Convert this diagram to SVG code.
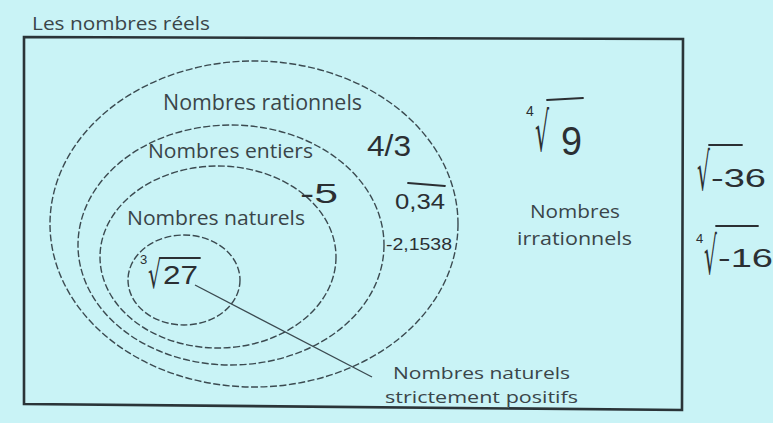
<svg xmlns="http://www.w3.org/2000/svg" width="773" height="423" viewBox="0 0 773 423">
  <style>
    .lbl { font-family: "Open Sans", "Liberation Sans", sans-serif; fill: #3a4549; }
    .hw { font-family: "Liberation Sans", "DejaVu Sans", sans-serif; fill: #2b2f33; }
    .rad { font-family: "DejaVu Sans", sans-serif; fill: #2b2f33; }
    .set { fill: none; stroke: #3b4a50; stroke-width: 1.4; stroke-dasharray: 7 2.5; }
    .bar { stroke: #2b2f33; stroke-width: 1.8; stroke-linecap: round; }
  </style>
  <rect x="0" y="0" width="773" height="423" fill="#c9f3f6"/>

  <g id="title">
    <text class="lbl" x="32" y="30" font-size="19" textLength="178" lengthAdjust="spacingAndGlyphs">Les nombres réels</text>
  </g>

  <g id="reels">
    <path d="M24,37 L683,39 L682,410 L24,404 Z" fill="none" stroke="#2a3438" stroke-width="2.6"/>
  </g>

  <g id="rationnels">
    <ellipse class="set" cx="254" cy="224" rx="204" ry="163"/>
    <text class="lbl" x="163" y="110" font-size="21" textLength="199" lengthAdjust="spacingAndGlyphs">Nombres rationnels</text>
  </g>

  <g id="entiers">
    <ellipse class="set" cx="231" cy="245" rx="153" ry="120"/>
    <text class="lbl" x="148" y="158" font-size="20" textLength="165" lengthAdjust="spacingAndGlyphs">Nombres entiers</text>
  </g>

  <g id="naturels">
    <ellipse class="set" cx="218" cy="257" rx="118" ry="91"/>
    <text class="lbl" x="127" y="225" font-size="20" textLength="178" lengthAdjust="spacingAndGlyphs">Nombres naturels</text>
  </g>

  <g id="naturels-positifs">
    <ellipse class="set" cx="184" cy="280" rx="56" ry="45"/>
    <text class="lbl" x="393" y="379" font-size="17" textLength="177" lengthAdjust="spacingAndGlyphs">Nombres naturels</text>
    <text class="lbl" x="385" y="403" font-size="17" textLength="193" lengthAdjust="spacingAndGlyphs">strictement positifs</text>
  </g>

  <g id="irrationnels">
    <text class="lbl" x="530" y="218" font-size="19" textLength="90" lengthAdjust="spacingAndGlyphs">Nombres</text>
    <text class="lbl" x="517" y="245" font-size="19" textLength="115" lengthAdjust="spacingAndGlyphs">irrationnels</text>
  </g>

  <g id="connectors">
    <line x1="195" y1="285" x2="372" y2="377" stroke="#3b4a50" stroke-width="1.4"/>
  </g>

  <g id="values">
    <text class="hw" x="367" y="156" font-size="30" textLength="44" lengthAdjust="spacingAndGlyphs">4/3</text>
    <text class="hw" x="300" y="203" font-size="28" textLength="38" lengthAdjust="spacingAndGlyphs">-5</text>
    <text class="hw" x="395" y="209" font-size="22" textLength="50" lengthAdjust="spacingAndGlyphs">0,34</text>
    <line class="bar" x1="408" y1="183" x2="445" y2="186"/>
    <text class="hw" x="386" y="250" font-size="17" textLength="66" lengthAdjust="spacingAndGlyphs">-2,1538</text>

    <!-- cube root of 27 -->
    <text class="hw" x="140" y="264" font-size="13">3</text>
    <text class="rad" transform="translate(148,288) scale(0.54,1)" font-size="38">√</text>
    <line class="bar" x1="160" y1="258" x2="200" y2="258"/>
    <text class="hw" x="163" y="284" font-size="26" textLength="35" lengthAdjust="spacingAndGlyphs">27</text>

    <!-- fourth root of 9 -->
    <text class="hw" x="526" y="116" font-size="14">4</text>
    <text class="rad" transform="translate(535,151) scale(0.41,1)" font-size="54">√</text>
    <line class="bar" x1="547" y1="100" x2="583" y2="98"/>
    <text class="hw" x="561" y="155" font-size="40" textLength="21" lengthAdjust="spacingAndGlyphs">9</text>

    <!-- square root of -36 -->
    <text class="rad" transform="translate(697,190) scale(0.39,1)" font-size="52">√</text>
    <line class="bar" x1="709" y1="145" x2="742" y2="145"/>
    <text class="hw" x="711" y="187" font-size="26" textLength="55" lengthAdjust="spacingAndGlyphs">-36</text>

    <!-- fourth root of -16 -->
    <text class="hw" x="696" y="243" font-size="13">4</text>
    <text class="rad" transform="translate(704,274) scale(0.39,1)" font-size="52">√</text>
    <line class="bar" x1="716" y1="226" x2="758" y2="226"/>
    <text class="hw" x="718" y="267" font-size="26" textLength="55" lengthAdjust="spacingAndGlyphs">-16</text>
  </g>
</svg>
